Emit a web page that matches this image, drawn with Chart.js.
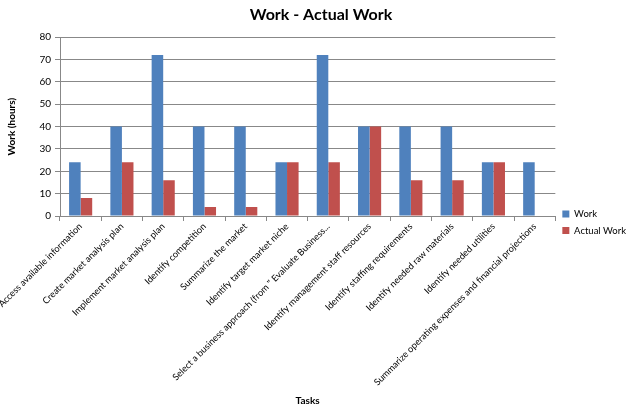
<!DOCTYPE html>
<html>
<head>
<meta charset="utf-8">
<script src="https://cdn.jsdelivr.net/npm/chart.js@4/dist/chart.umd.min.js"></script>
<style>
  html, body { margin: 0; padding: 0; background: #fff; }
  #wrap { width: 630px; height: 408px; }
</style>
</head>
<body>
<div id="wrap"><canvas id="grafico"></canvas></div>
<script>
// Dados
const tarefas = [
  'Access available information',
  'Create market analysis plan',
  'Implement market analysis plan',
  'Identify competition',
  'Summarize the market',
  'Identify target market niche',
  'Select a business approach (from " Evaluate Business...',
  'Identify management staff resources',
  'Identify staffing requirements',
  'Identify needed raw materials',
  'Identify needed utilities',
  'Summarize operating expenses and financial projections'
];
const work = [24, 40, 72, 40, 40, 24, 72, 40, 40, 40, 24, 24];
const actualWork = [8, 24, 16, 4, 4, 24, 24, 40, 16, 16, 24, null];
const yTicks = [0, 10, 20, 30, 40, 50, 60, 70, 80];

const fonte = 'Lato, Open Sans, sans-serif';
const cinza = '#888888';

const ctx = document.getElementById('grafico').getContext('2d');
new Chart(ctx, {
  type: 'bar',
  data: {
    labels: tarefas,
    datasets: [{
      label: 'Work',
      data: work,
      backgroundColor: '#4F81BD'
    }, {
      label: 'Actual Work',
      data: actualWork,
      backgroundColor: '#C0504D'
    }]
  },
  options: {
    responsive: true,
    maintainAspectRatio: false,
    animation: false,
    categoryPercentage: 0.56,
    barPercentage: 1,
    layout: { padding: { top: 5, right: -6, left: 6, bottom: 1 } },
    plugins: {
      title: {
        display: true,
        text: 'Work - Actual Work',
        color: '#000',
        font: { family: fonte, size: 16, weight: 'bold' },
        padding: { top: 0, bottom: 13 }
      },
      legend: {
        position: 'right',
        // titulo vazio so para descer a legenda
        title: { display: true, text: '', padding: 15, font: { size: 2 } },
        labels: {
          color: '#000',
          boxWidth: 7,
          boxHeight: 7,
          padding: 7,
          font: { family: fonte, size: 9.5 }
        }
      },
      tooltip: { enabled: false }
    },
    scales: {
      x: {
        afterFit: (axis) => {
          axis.paddingLeft = 0;
          axis.paddingRight = 0;
          axis.height = 191;
        },
        grid: { display: true, drawOnChartArea: false, offset: true, tickLength: 5, color: cinza },
        border: { color: cinza },
        ticks: {
          color: '#000',
          minRotation: 45,
          maxRotation: 45,
          autoSkip: false,
          padding: 0,
          font: { family: fonte, size: 9.2 }
        },
        title: {
          display: true,
          text: 'Tasks',
          color: '#000',
          font: { family: fonte, size: 10, weight: 'bold' },
          padding: { top: 2, bottom: 0 }
        }
      },
      y: {
        min: 0,
        max: 80,
        afterBuildTicks: (axis) => { axis.ticks = yTicks.map(v => ({ value: v })); },
        afterFit: (axis) => { axis.width = 54; },
        grid: { color: cinza, tickLength: 5 },
        border: { color: cinza },
        ticks: {
          color: '#000',
          padding: 4,
          font: { family: fonte, size: 10 }
        },
        title: {
          display: true,
          text: 'Work (hours)',
          color: '#000',
          font: { family: fonte, size: 10, weight: 'bold' },
          padding: { top: 0, bottom: 0 }
        }
      }
    }
  }
});
</script>
</body>
</html>
